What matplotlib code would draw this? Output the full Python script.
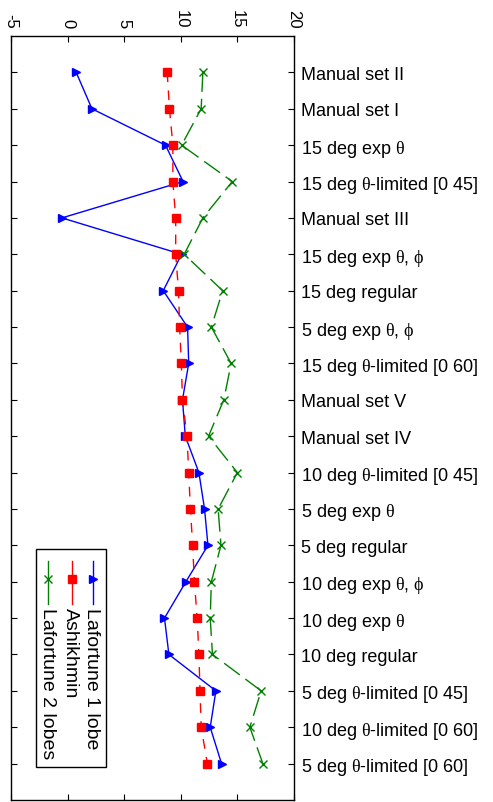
import matplotlib
matplotlib.use("Agg")
import matplotlib.pyplot as plt
from matplotlib.lines import Line2D
from matplotlib.patches import Rectangle

plt.rcParams['font.family'] = ['Liberation Sans', 'DejaVu Sans']
plt.rcParams['mathtext.fontset'] = 'custom'
plt.rcParams['mathtext.rm'] = 'Liberation Serif'
plt.rcParams['mathtext.it'] = 'Liberation Serif'

TH = r'$\mathrm{\theta}$'
PH = r'$\mathrm{\phi}$'

categories = [
    "Manual set II",
    "Manual set I",
    "15 deg exp " + TH,
    "15 deg " + TH + "-limited [0 45]",
    "Manual set III",
    "15 deg exp " + TH + ", " + PH,
    "15 deg regular",
    "5 deg exp " + TH + ", " + PH,
    "15 deg " + TH + "-limited [0 60]",
    "Manual set V",
    "Manual set IV",
    "10 deg " + TH + "-limited [0 45]",
    "5 deg exp " + TH,
    "5 deg regular",
    "10 deg exp " + TH + ", " + PH,
    "10 deg exp " + TH,
    "10 deg regular",
    "5 deg " + TH + "-limited [0 45]",
    "10 deg " + TH + "-limited [0 60]",
    "5 deg " + TH + "-limited [0 60]",
]

lafortune1 = [0.76, 2.15, 8.65, 10.2, -0.5, 10.07, 8.45, 10.6, 10.7, 10.15,
              10.4, 11.6, 12.1, 12.4, 10.45, 8.56, 8.95, 13.1, 12.6, 13.6]
ashikhmin = [8.8, 9.0, 9.3, 9.3, 9.55, 9.55, 9.8, 9.9, 10.05, 10.15,
             10.55, 10.7, 10.85, 11.05, 11.2, 11.45, 11.6, 11.7, 11.8, 12.35]
lafortune2 = [11.95, 11.8, 10.07, 14.55, 11.95, 10.3, 13.7, 12.7, 14.45, 13.8,
              12.45, 15.0, 13.3, 13.55, 12.7, 12.6, 12.8, 17.1, 16.1, 17.25]

xticks = [-5, 0, 5, 10, 15, 20]

pos = list(range(1, len(categories) + 1))

fig = plt.figure(figsize=(4.93, 8.03), dpi=100)
ax = fig.add_axes([0.0223, 0.0025, 0.574, 0.9514])

ax.plot(lafortune1, pos, color='#0000ff', lw=1.0, marker='>', ms=6,
        label='Lafortune 1 lobe')
ax.plot(ashikhmin, pos, color='#ff0000', lw=1.0, marker='s', ms=6,
        dashes=(7, 6), label='Ashikhmin')
ax.plot(lafortune2, pos, color='#008000', lw=1.0, marker='x', ms=6,
        dashes=(14, 5), label='Lafortune 2 lobes')

ax.set_xlim(-5, 20)
ax.set_ylim(len(categories) + 1, 0)
ax.set_xticks(xticks)
ax.set_xticklabels([str(t) for t in xticks], rotation=-90, fontsize=12)
ax.set_yticks(pos)
ax.set_yticklabels(categories, fontsize=13)

ax.xaxis.set_ticks_position('both')
ax.xaxis.set_label_position('top')
ax.tick_params(axis='x', which='both', direction='in', length=4,
               labeltop=True, labelbottom=False, pad=6)
ax.yaxis.set_ticks_position('both')
ax.tick_params(axis='y', which='both', direction='in', length=4,
               labelright=True, labelleft=False, pad=5)
for sp in ax.spines.values():
    sp.set_linewidth(1.0)

# legend box drawn by hand so its entries can run vertically
tr = ax.transAxes
ax.add_patch(Rectangle((0.087, 0.043), 0.248, 0.2855, transform=tr,
                       facecolor='white', edgecolor='black', lw=1.0, zorder=5))
entries = [
    (0.289, 'Lafortune 1 lobe', '#0000ff', '>', None),
    (0.214, 'Ashikhmin', '#ff0000', 's', (7, 6)),
    (0.132, 'Lafortune 2 lobes', '#008000', 'x', (14, 5)),
]
for x, name, c, m, d in entries:
    ln = Line2D([x, x], [0.313, 0.2565], transform=tr, color=c, lw=1.0, zorder=6)
    ax.add_line(ln)
    ax.add_line(Line2D([x], [0.289], transform=tr, color=c, marker=m, ms=6,
                       lw=0, zorder=7))
    ax.text(x - 0.004, 0.252, name, transform=tr, rotation=-90, ha='center',
            va='top', fontsize=14, zorder=7)

fig.savefig('out.png', dpi=100)
